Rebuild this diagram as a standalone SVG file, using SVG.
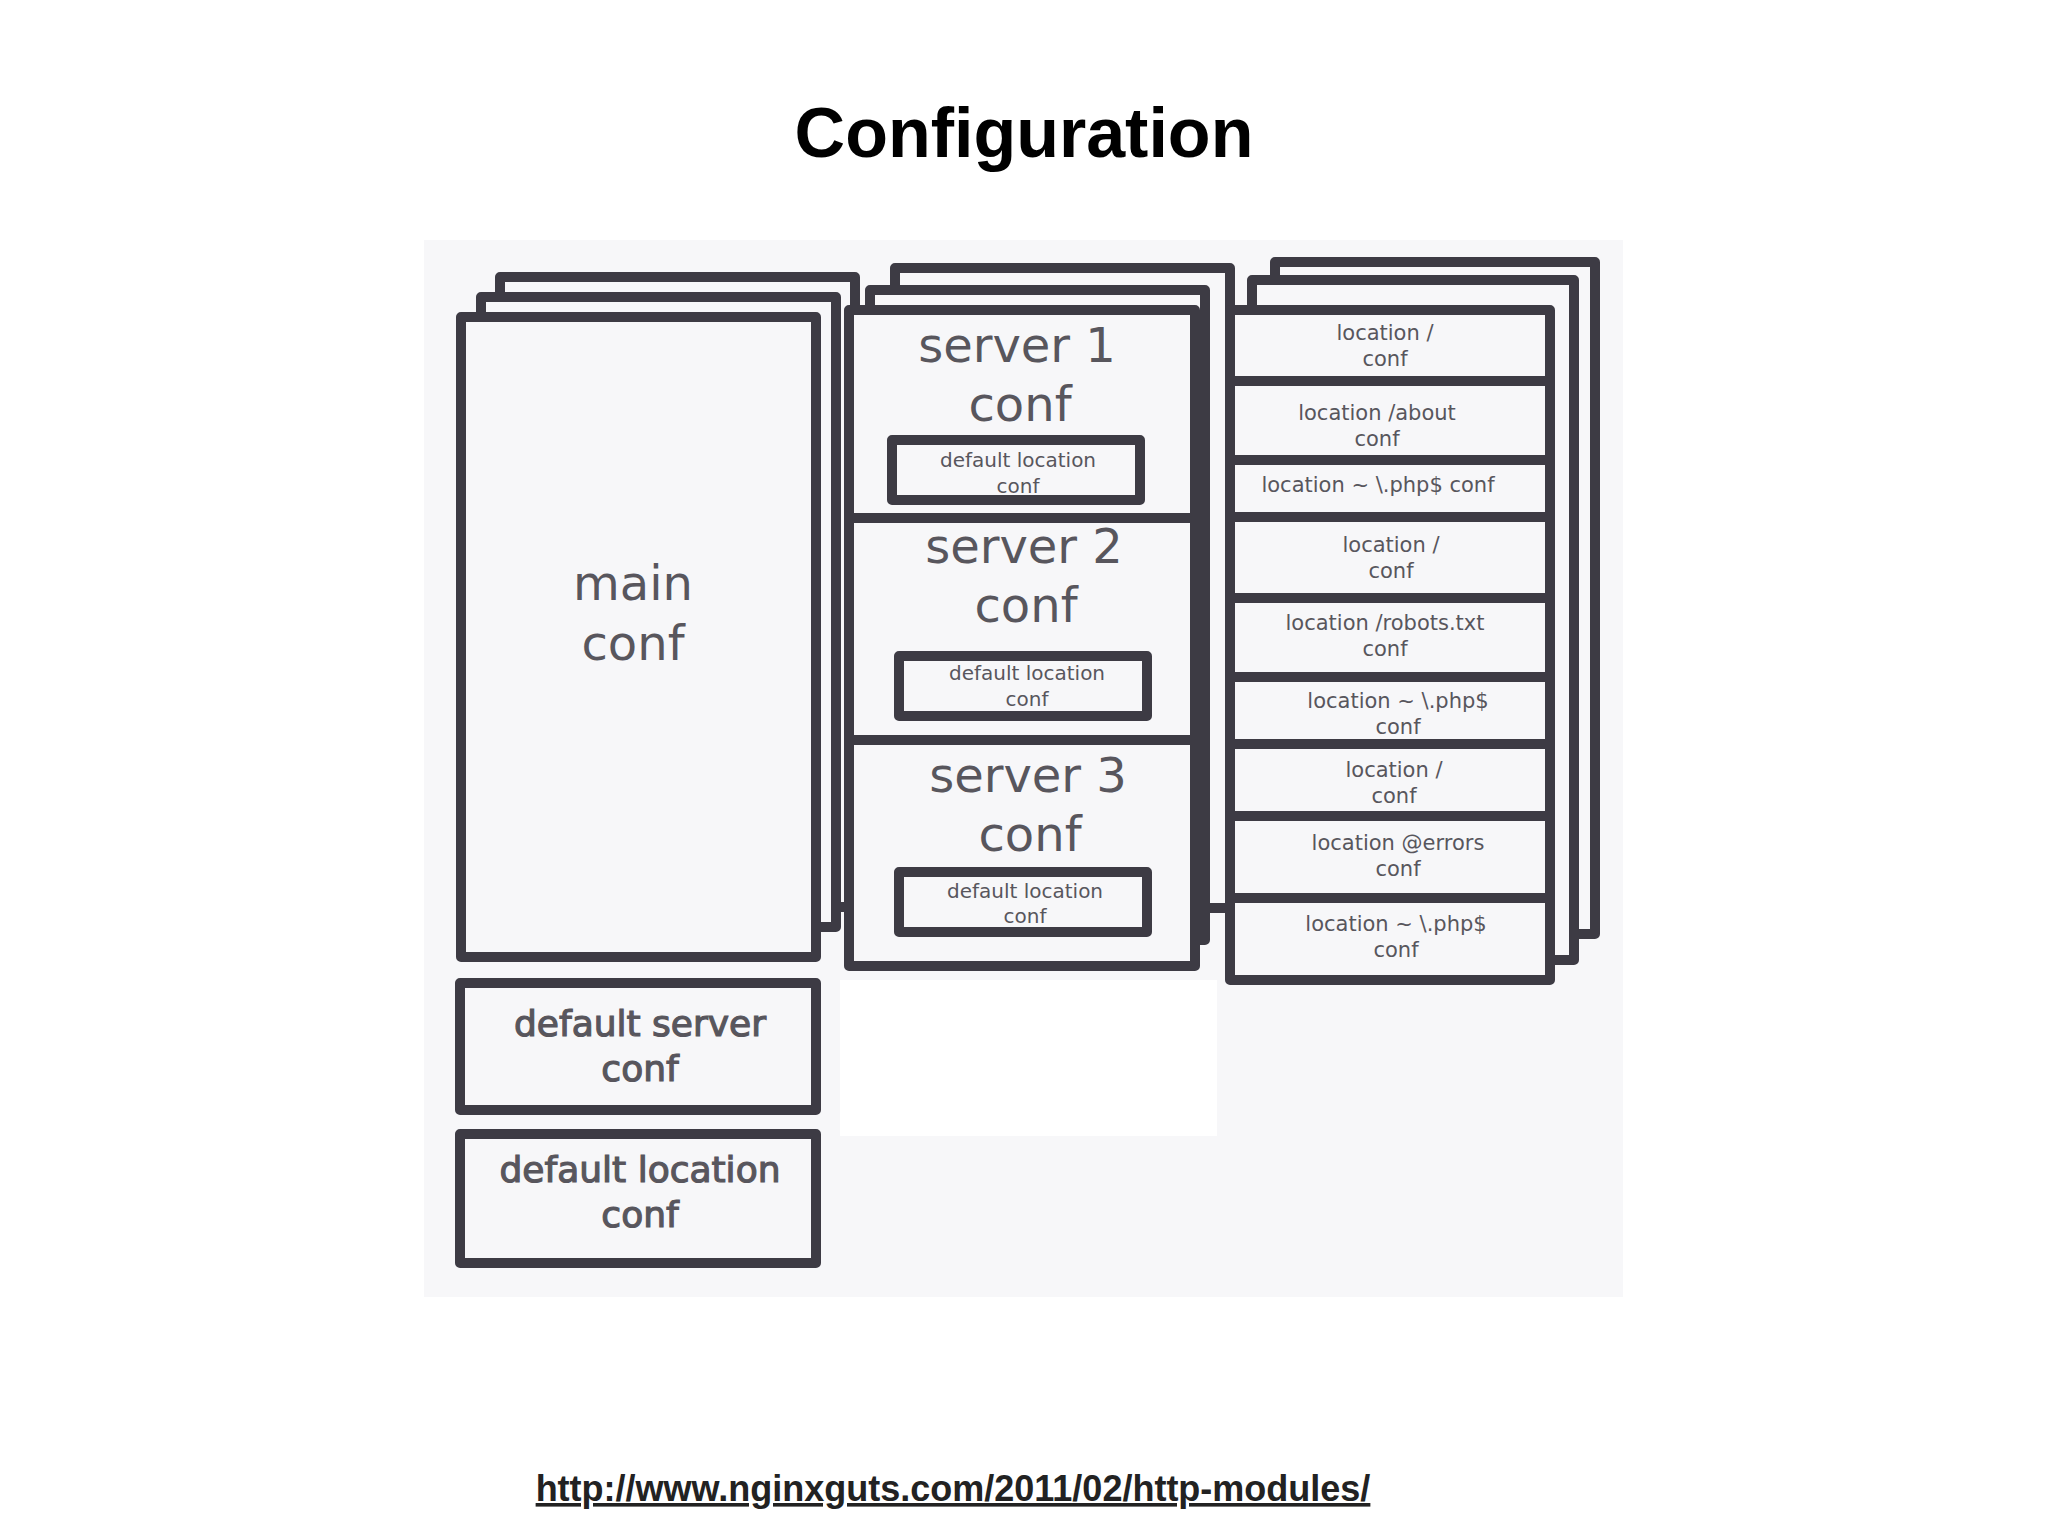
<svg xmlns="http://www.w3.org/2000/svg" width="2048" height="1536" viewBox="0 0 2048 1536">
<style>
.b{fill:none;stroke:#3d3b44;stroke-width:10;stroke-linejoin:round}
.f{fill:#f7f7f9;stroke:#3d3b44;stroke-width:10;stroke-linejoin:round}
.t{font-family:"DejaVu Sans",sans-serif;fill:#58565d;text-anchor:middle}
.big{font-size:48px}
.mid{font-size:36px;stroke:#58565d;stroke-width:1.2}
.sm{font-size:20px}
.loc{font-size:21px}
</style>
<rect width="2048" height="1536" fill="#fff"/>
<text x="1024" y="157" font-family="Liberation Sans, Arial, sans-serif" font-weight="bold" font-size="70" text-anchor="middle">Configuration</text>
<rect x="424" y="240" width="1199" height="1057" fill="#f7f7f9"/>
<g id="main">
<rect class="f" x="500" y="277" width="355" height="630"/>
<rect class="f" x="481" y="297" width="355" height="630"/>
<rect class="f" x="461" y="317" width="355" height="640"/>
<text class="t big" x="633" y="600">main</text>
<text class="t big" x="633" y="660">conf</text>
</g>
<g id="defserver">
<rect class="b" x="460" y="983" width="356" height="127"/>
<text class="t mid" x="640" y="1036">default server</text>
<text class="t mid" x="640" y="1081">conf</text>
</g>
<g id="defloc">
<rect class="b" x="460" y="1134" width="356" height="129"/>
<text class="t mid" x="640" y="1182">default location</text>
<text class="t mid" x="640" y="1227">conf</text>
</g>
<g id="servers">
<rect class="f" x="895" y="268" width="335" height="640"/>
<rect class="f" x="870" y="290" width="335" height="650"/>
<rect class="f" x="849" y="310" width="346" height="656"/>
<line class="b" x1="849" y1="518" x2="1195" y2="518"/>
<line class="b" x1="849" y1="740" x2="1195" y2="740"/>
<text class="t big" x="1017" y="362">server 1</text>
<text class="t big" x="1020" y="421">conf</text>
<rect class="b" x="892" y="440" width="248" height="60"/>
<text class="t sm" x="1018" y="467">default location</text>
<text class="t sm" x="1018" y="493">conf</text>
<text class="t big" x="1024" y="563">server 2</text>
<text class="t big" x="1026" y="622">conf</text>
<rect class="b" x="899" y="656" width="248" height="60"/>
<text class="t sm" x="1027" y="680">default location</text>
<text class="t sm" x="1027" y="706">conf</text>
<text class="t big" x="1028" y="792">server 3</text>
<text class="t big" x="1030" y="851">conf</text>
<rect class="b" x="899" y="872" width="248" height="60"/>
<text class="t sm" x="1025" y="898">default location</text>
<text class="t sm" x="1025" y="923">conf</text>
</g>
<rect x="840" y="980" width="377" height="156" fill="#fff"/>
<g id="locations">
<rect class="f" x="1275" y="262" width="320" height="672"/>
<rect class="f" x="1252" y="280" width="322" height="680"/>
<rect class="f" x="1230" y="310" width="320" height="670"/>
<line class="b" x1="1230" y1="381" x2="1550" y2="381"/>
<line class="b" x1="1230" y1="460" x2="1550" y2="460"/>
<line class="b" x1="1230" y1="517" x2="1550" y2="517"/>
<line class="b" x1="1230" y1="598" x2="1550" y2="598"/>
<line class="b" x1="1230" y1="677" x2="1550" y2="677"/>
<line class="b" x1="1230" y1="744" x2="1550" y2="744"/>
<line class="b" x1="1230" y1="816" x2="1550" y2="816"/>
<line class="b" x1="1230" y1="898" x2="1550" y2="898"/>
<text class="t loc" x="1385" y="340">location /</text>
<text class="t loc" x="1385" y="366">conf</text>
<text class="t loc" x="1377" y="420">location /about</text>
<text class="t loc" x="1377" y="446">conf</text>
<text class="t loc" x="1378" y="492">location ~ \.php$ conf</text>
<text class="t loc" x="1391" y="552">location /</text>
<text class="t loc" x="1391" y="578">conf</text>
<text class="t loc" x="1385" y="630">location /robots.txt</text>
<text class="t loc" x="1385" y="656">conf</text>
<text class="t loc" x="1398" y="708">location ~ \.php$</text>
<text class="t loc" x="1398" y="734">conf</text>
<text class="t loc" x="1394" y="777">location /</text>
<text class="t loc" x="1394" y="803">conf</text>
<text class="t loc" x="1398" y="850">location @errors</text>
<text class="t loc" x="1398" y="876">conf</text>
<text class="t loc" x="1396" y="931">location ~ \.php$</text>
<text class="t loc" x="1396" y="957">conf</text>
</g>
<text x="953" y="1501" font-family="Liberation Sans, Arial, sans-serif" font-weight="bold" font-size="36" text-anchor="middle" text-decoration="underline" fill="#222">http://www.nginxguts.com/2011/02/http-modules/</text>
</svg>
